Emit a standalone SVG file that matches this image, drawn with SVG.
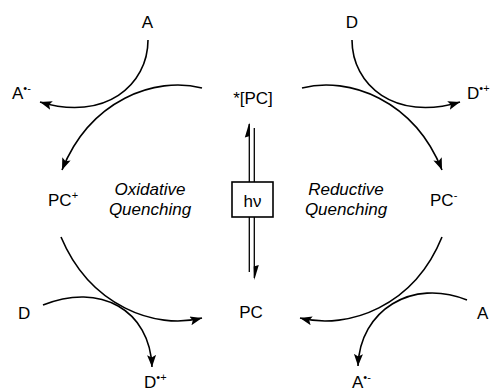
<svg xmlns="http://www.w3.org/2000/svg" width="491" height="392" viewBox="0 0 491 392">
<style>
text{font-family:"Liberation Sans",Arial,sans-serif;font-size:17px;fill:#000}
.it{font-style:italic}
.sup{font-size:11px}
.c{fill:none;stroke:#000;stroke-width:1.6}
.l{stroke:#000;stroke-width:1.3;fill:none}
</style>
<defs>
<marker id="ah" markerUnits="userSpaceOnUse" markerWidth="14" markerHeight="10" refX="12" refY="4.5" orient="auto" viewBox="0 0 14 10">
<path d="M0,0 L12,4.5 L0,9 L2.5,4.5 z" fill="#000"/>
</marker>
</defs>
<rect width="491" height="392" fill="#fff"/>
<g id="connectors">
<path class="c" d="M202,88 C155,76 90,100 62,170" marker-end="url(#ah)"/>
<path class="c" d="M148,40 C148,85 105,122 40,102" marker-end="url(#ah)"/>
<path class="c" d="M302,88 C349,76 414,100 442,170" marker-end="url(#ah)"/>
<path class="c" d="M352,40 C352,85 395,122 460,102" marker-end="url(#ah)"/>
<path class="c" d="M61,237 C90,306 155,330 202,318" marker-end="url(#ah)"/>
<path class="c" d="M43,305 C100,282 150,310 152,367" marker-end="url(#ah)"/>
<path class="c" d="M442,237 C414,306 349,330 300,318" marker-end="url(#ah)"/>
<path class="c" d="M467,300 C412,278 360,310 358,366" marker-end="url(#ah)"/>
<line class="l" x1="249.3" y1="182" x2="249.3" y2="124"/>
<path d="M249.3,122.5 L249.9,136 L244.8,137.5 z" fill="#000"/>
<line class="l" x1="254.3" y1="128" x2="254.3" y2="182"/>
<line class="l" x1="249.3" y1="217" x2="249.3" y2="272"/>
<line class="l" x1="254.3" y1="217" x2="254.3" y2="278"/>
<path d="M254.3,280 L253.7,266.5 L258.8,265 z" fill="#000"/>
</g>
<g id="hv">
<rect x="232" y="182" width="41" height="35" fill="#fff" stroke="#000" stroke-width="1.6"/>
<text x="252.5" y="207" text-anchor="middle">hν</text>
</g>
<g id="pcstar"><text x="253" y="104" text-anchor="middle">*[PC]</text></g>
<g id="pc"><text x="251" y="318" text-anchor="middle">PC</text></g>
<g id="pcplus"><text x="48" y="206">PC<tspan class="sup" dy="-7">+</tspan></text></g>
<g id="pcminus"><text x="430" y="206">PC<tspan class="sup" dy="-7">-</tspan></text></g>
<g id="A-top"><text x="147.5" y="28" text-anchor="middle">A</text></g>
<g id="D-top"><text x="352" y="28" text-anchor="middle">D</text></g>
<g id="Arad-top"><text x="12" y="99">A<tspan class="sup" dy="-7">•-</tspan></text></g>
<g id="Drad-top"><text x="467" y="99">D<tspan class="sup" dy="-7">•+</tspan></text></g>
<g id="D-bot"><text x="18" y="319">D</text></g>
<g id="A-bot"><text x="477" y="319">A</text></g>
<g id="Drad-bot"><text x="144" y="388">D<tspan class="sup" dy="-7">•+</tspan></text></g>
<g id="Arad-bot"><text x="352" y="388">A<tspan class="sup" dy="-7">•-</tspan></text></g>
<g id="ox"><text class="it" x="150" y="195" text-anchor="middle">Oxidative</text><text class="it" x="150" y="215" text-anchor="middle">Quenching</text></g>
<g id="red"><text class="it" x="346" y="195" text-anchor="middle">Reductive</text><text class="it" x="346" y="215" text-anchor="middle">Quenching</text></g>
</svg>
